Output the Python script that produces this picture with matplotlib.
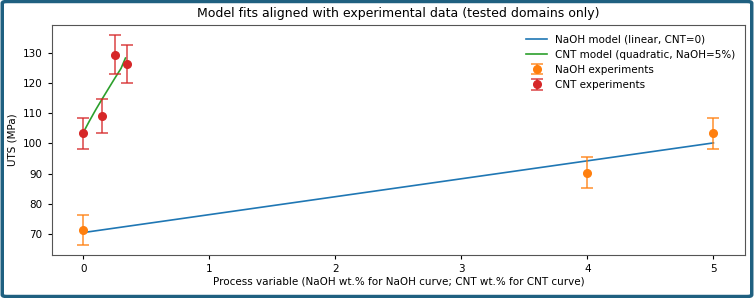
import matplotlib
matplotlib.use("Agg")
import matplotlib.pyplot as plt
from matplotlib.patches import FancyBboxPatch

# NaOH series (CNT = 0)
naoh_x = [0, 4, 5]
naoh_uts = [71.4, 90.4, 103.4]
naoh_err = [5.0, 5.2, 5.1]
naoh_model_x = [0, 5]
naoh_model_y = [70.6, 100.2]

# CNT series (NaOH = 5%)
cnt_x = [0, 0.15, 0.25, 0.35]
cnt_uts = [103.4, 109.1, 129.3, 126.2]
cnt_err = [5.1, 5.6, 6.4, 6.2]
cnt_model_x = [0, 0.05, 0.10, 0.15, 0.20, 0.25, 0.30, 0.335]
cnt_model_y = [103.6, 107.5, 111.2, 114.7, 118.1, 121.5, 124.8, 128.2]

fig = plt.figure(figsize=(7.54, 2.98), dpi=100)
ax = fig.add_axes([0.0686, 0.1443, 0.9194, 0.7717])

ax.plot(naoh_model_x, naoh_model_y, color="#1f77b4", linewidth=1.2,
        label="NaOH model (linear, CNT=0)")
ax.plot(cnt_model_x, cnt_model_y, color="#2ca02c", linewidth=1.2,
        label="CNT model (quadratic, NaOH=5%)")
for xs, ys, es, col, lab in [(naoh_x, naoh_uts, naoh_err, "#ff7f0e", "NaOH experiments"),
                             (cnt_x, cnt_uts, cnt_err, "#d62728", "CNT experiments")]:
    eb = ax.errorbar(xs, ys, yerr=es, fmt="o", color=col, ms=5.5, capsize=4,
                     elinewidth=1.2, capthick=1.2, label=lab)
    for ln in eb[1]:
        ln.set_alpha(0.8)
    for lc in eb[2]:
        lc.set_alpha(0.8)

ax.set_xlim(-0.25, 5.25)
ax.set_ylim(63.2, 139.1)
ax.set_yticks([70, 80, 90, 100, 110, 120, 130])
ax.set_xticks([0, 1, 2, 3, 4, 5])
ax.tick_params(labelsize=7.5, length=3)
ax.set_xlabel("Process variable (NaOH wt.% for NaOH curve; CNT wt.% for CNT curve)",
              fontsize=7.5, labelpad=2)
ax.set_ylabel("UTS (MPa)", fontsize=7.5, labelpad=4)
ax.set_title("Model fits aligned with experimental data (tested domains only)",
             fontsize=9, pad=6)
for s in ax.spines.values():
    s.set_color("#555555")
ax.legend(loc="upper right", fontsize=7.5, frameon=False)

# outer frame around the figure
fig.patches.append(FancyBboxPatch((0.003, 0.005), 0.994, 0.99,
                                  boxstyle="round,pad=0,rounding_size=0.006",
                                  transform=fig.transFigure, fill=False,
                                  edgecolor="#1f6080", linewidth=2.5))

fig.savefig("out.png", dpi=100)
